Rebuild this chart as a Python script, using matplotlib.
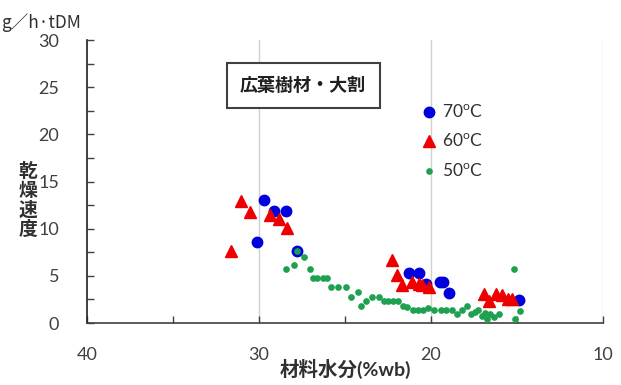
import matplotlib.pyplot as plt
import numpy as np

plt.rcParams['font.family'] = ['Lato', 'Noto Sans CJK JP', 'DejaVu Sans']
plt.rcParams['mathtext.fontset'] = 'custom'
plt.rcParams['mathtext.rm'] = 'Lato'

# 70°C series
x70 = [29.7, 29.1, 28.45, 30.1, 27.8, 21.3, 20.7, 20.3, 19.5, 19.3, 18.95, 14.9]
y70 = [13.0, 11.9, 11.9, 8.6, 7.6, 5.3, 5.3, 4.1, 4.3, 4.3, 3.2, 2.4]

# 60°C series
x60 = [31.05, 30.5, 29.35, 28.85, 28.35, 31.65, 22.25, 21.95, 21.7, 21.1, 20.7, 20.55, 20.1,
       16.9, 16.6, 16.2, 15.9, 15.55, 15.3]
y60 = [12.9, 11.8, 11.4, 11.0, 10.1, 7.6, 6.7, 5.1, 4.0, 4.3, 4.1, 4.0, 3.85,
       3.1, 2.3, 3.1, 3.0, 2.5, 2.5]

# 50°C series
x50 = [28.45, 27.95, 27.8, 27.4, 27.05, 26.85, 26.6, 26.3, 26.05, 25.8, 25.4, 24.95,
       24.65, 24.25, 24.05, 23.75, 23.4, 23.05, 22.75, 22.5, 22.2, 21.9, 21.65, 21.4,
       21.05, 20.75, 20.45, 20.15, 19.8, 19.4, 19.1, 18.8, 18.5, 18.2, 17.9, 17.65,
       17.45, 17.25, 17.05, 16.85, 16.75, 16.55, 16.35, 16.05, 15.2, 15.1, 14.85]
y50 = [5.7, 6.2, 7.6, 7.0, 5.7, 4.8, 4.8, 4.8, 4.8, 3.85, 3.85, 3.85,
       2.8, 3.25, 1.85, 2.3, 2.8, 2.8, 2.3, 2.3, 2.3, 2.3, 1.85, 1.7,
       1.4, 1.4, 1.4, 1.6, 1.4, 1.4, 1.4, 1.4, 0.95, 1.4, 1.8, 0.95,
       1.2, 1.4, 0.7, 1.1, 0.4, 0.95, 0.6, 0.95, 5.7, 0.45, 1.3]

xticks = [40, 35, 30, 25, 20, 15, 10]
xtick_labels = ['40', '', '30', '', '20', '', '10']
yticks = [0, 2.5, 5, 7.5, 10, 12.5, 15, 17.5, 20, 22.5, 25, 27.5, 30]
ytick_labels = ['0', '', '5', '', '10', '', '15', '', '20', '', '25', '', '30']

fig = plt.figure(figsize=(6.21, 3.85), dpi=100)
ax = fig.add_axes([0.140, 0.161, 0.831, 0.735])

ax.plot(x70, y70, 'o', color='#0000DD', markersize=7.5, label=r'70$^{\rm o}$C', zorder=3)
ax.plot(x60, y60, '^', color='#EE0000', markersize=8, label=r'60$^{\rm o}$C', zorder=3)
ax.plot(x50, y50, 'o', color='#1FA050', markersize=3.8, label=r'50$^{\rm o}$C', zorder=3)

ax.set_xlim(40, 10)
ax.set_ylim(0, 30)
ax.set_xticks(xticks)
ax.set_xticklabels(xtick_labels)
ax.set_yticks(yticks)
ax.set_yticklabels(ytick_labels)
ax.tick_params(axis='both', direction='in', length=5, width=1, color='#404040',
               labelsize=13, labelcolor='#404040')
ax.tick_params(axis='x', pad=17)
ax.tick_params(axis='y', pad=20)

for x in [30, 20, 10]:
    ax.axvline(x, color='#D0D0D0', linewidth=1, zorder=0)

ax.spines['top'].set_visible(False)
ax.spines['right'].set_visible(False)
ax.spines['left'].set_color('#202020')
ax.spines['bottom'].set_color('#404040')
ax.spines['left'].set_linewidth(1.2)
ax.spines['bottom'].set_linewidth(1.2)

ax.set_xlabel('材料水分(%wb)', fontsize=14, fontweight='bold', color='#303030', labelpad=-3)
fig.text(0.045, 0.48, '乾\n燥\n速\n度', fontsize=13.5, fontweight='bold', color='#303030',
         ha='center', va='center', linespacing=1.1)
fig.text(0.002, 0.94, 'g／h·tDM', fontsize=12.5, color='#303030', ha='left', va='center',
         family=['Noto Sans CJK JP'])

ax.text(0.419, 0.839, '広葉樹材・大割', transform=ax.transAxes, fontsize=13, fontweight='bold',
        color='#202020', ha='center', va='center',
        bbox=dict(boxstyle='square,pad=0.75', facecolor='white', edgecolor='#404040', linewidth=1.5))

leg = ax.legend(loc='upper left', bbox_to_anchor=(0.63, 0.80), frameon=False, fontsize=12.5,
                handletextpad=0.1, labelspacing=0.7, handlelength=1.2, borderaxespad=0)
for t in leg.get_texts():
    t.set_color('#303030')

fig.savefig('out.png', dpi=100)
